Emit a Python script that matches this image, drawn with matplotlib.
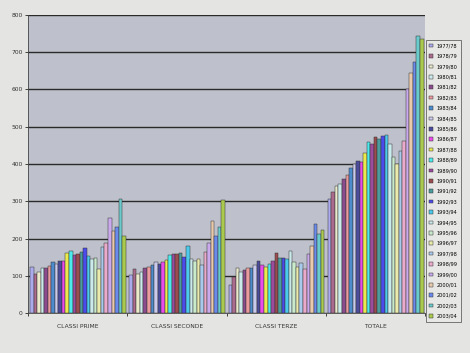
import numpy as np
import matplotlib
matplotlib.use("Agg")
import matplotlib.pyplot as plt
from matplotlib.colors import to_rgb

categories = ["CLASSI PRIME", "CLASSI SECONDE", "CLASSI TERZE", "TOTALE"]

years = ["1977/78", "1978/79", "1979/80", "1980/81", "1981/82", "1982/83",
         "1983/84", "1984/85", "1985/86", "1986/87", "1987/88", "1988/89",
         "1989/90", "1990/91", "1991/92", "1992/93", "1993/94", "1994/95",
         "1995/96", "1996/97", "1997/98", "1998/99", "1999/00", "2000/01",
         "2001/02", "2002/03", "2003/04"]

# one list per category, one value per school year
classi_prime = [125, 104, 110, 121, 122, 126, 136, 133, 140, 141, 160, 167, 157, 159,
                164, 174, 153, 145, 147, 119, 178, 188, 255, 221, 231, 305, 207]
classi_seconde = [101, 119, 105, 111, 120, 124, 129, 138, 133, 136, 142, 156, 158, 158,
                  160, 151, 179, 144, 140, 146, 128, 164, 189, 247, 206, 232, 303]
classi_terze = [76, 97, 120, 109, 116, 120, 122, 129, 140, 129, 125, 133, 140, 160,
                147, 148, 144, 166, 136, 125, 135, 118, 159, 181, 239, 212, 224]
totale = [305, 324, 340, 346, 361, 370, 390, 399, 409, 405, 429, 458, 453, 472,
          467, 474, 477, 453, 419, 400, 436, 462, 600, 643, 673, 742, 735]

yticks = list(range(0, 900, 100))

# old Excel series palette
excel_cols = ["#9999FF", "#993366", "#FFFFCC", "#CCFFFF", "#660066", "#FF8080",
              "#0066CC", "#CCCCFF", "#000080", "#FF00FF", "#FFFF00", "#00FFFF",
              "#800080", "#800000", "#008080", "#0000FF", "#00CCFF", "#CCFFFF",
              "#CCFFCC", "#FFFF99", "#99CCFF", "#FF99CC", "#CC99FF", "#FFCC99",
              "#3366FF", "#33CCCC", "#99CC00"]


def faded(c, k=0.38, base=(0.78, 0.78, 0.80)):
    # the photo washes the print colours out a bit
    r = np.array(to_rgb(c))
    return tuple((1 - k) * r + k * np.array(base))


colors = [faded(c) for c in excel_cols]

data = np.array([classi_prime, classi_seconde, classi_terze, totale])

fig = plt.figure(figsize=(4.7, 3.53), dpi=100, facecolor="#e4e4e2")
ax = fig.add_axes([0.06, 0.113, 0.845, 0.845])
ax.set_facecolor("#bec1cb")

n = len(years)
w = 1.0 / (n + 1)
x = np.arange(len(categories))
for i in range(n):
    ax.bar(x - 0.5 + w * (i + 1), data[:, i], width=w, color=colors[i],
           edgecolor="#333333", linewidth=0.35, label=years[i], zorder=3)

ax.set_xlim(-0.5, len(categories) - 0.5)
ax.set_ylim(0, 800)
ax.set_yticks(yticks)
ax.set_yticklabels([str(t) for t in yticks], fontsize=4.3, color="#333333")
ax.yaxis.grid(True, color="#2a2a2a", linewidth=1.0, zorder=1)
ax.set_axisbelow(True)

ax.set_xticks(np.arange(len(categories) + 1) - 0.5, minor=True)
ax.set_xticks(x)
ax.set_xticklabels(categories, fontsize=4.3, color="#333333")
ax.tick_params(axis="x", which="major", length=0, pad=8)
ax.tick_params(axis="x", which="minor", length=2, width=0.5)
ax.tick_params(axis="y", length=2, width=0.5, pad=2)

for s in ["top", "right"]:
    ax.spines[s].set_visible(False)
for s in ["left", "bottom"]:
    ax.spines[s].set_color("#444444")
    ax.spines[s].set_linewidth(0.6)

leg = fig.legend(loc="upper left", bbox_to_anchor=(0.906, 0.887), fontsize=3.6,
                 frameon=True, fancybox=False, edgecolor="#444444",
                 facecolor="#e8e8e8", handlelength=0.7, handleheight=0.7,
                 handletextpad=0.7, labelspacing=1.08, borderpad=0.7,
                 borderaxespad=0)
leg.get_frame().set_linewidth(0.6)

fig.savefig("out.png", dpi=100, facecolor=fig.get_facecolor())
